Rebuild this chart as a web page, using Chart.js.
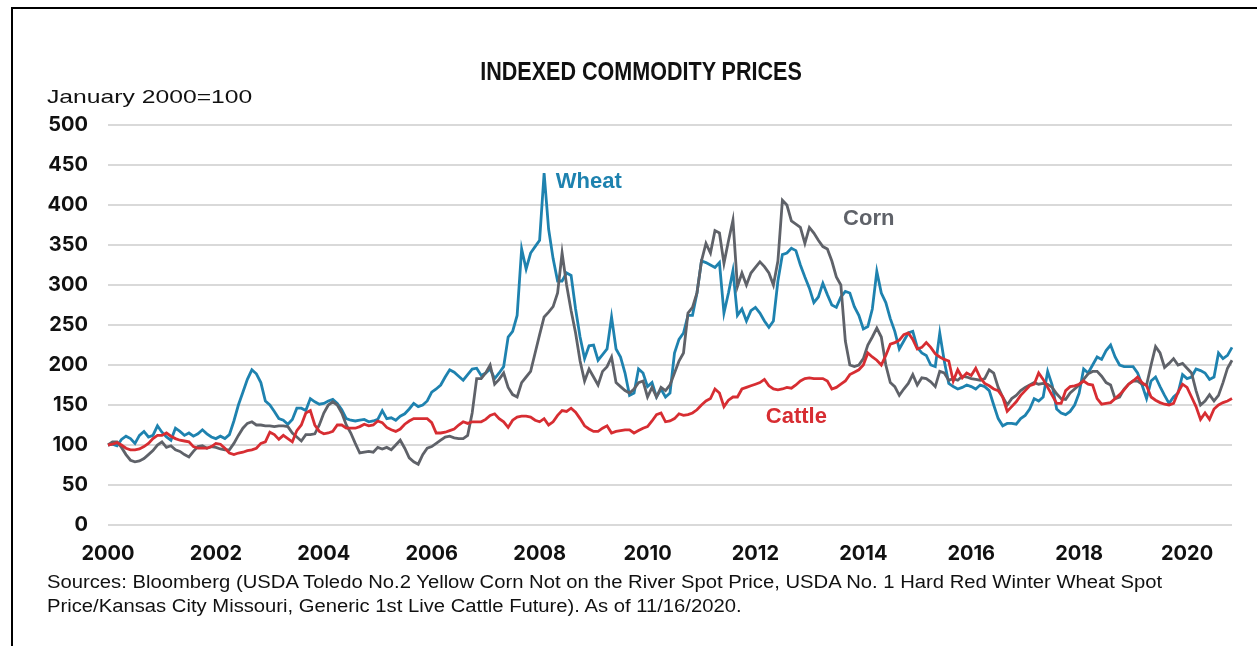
<!DOCTYPE html>
<html>
<head>
<meta charset="utf-8">
<script src="https://cdn.jsdelivr.net/npm/chart.js@4.4.1/dist/chart.umd.min.js"></script>
<style>
  body { margin: 0; background: #fff; }
  #wrap { position: relative; width: 1257px; height: 646px; overflow: hidden; }
  #frame { position: absolute; left: 11px; top: 7px; right: -5px; bottom: -5px;
           border-left: 2px solid #000; border-top: 2px solid #000; }
  #myChart { position: absolute; left: 0; top: 0; }
  .txt { position: absolute; white-space: nowrap; font-family: "Liberation Sans", Arial, sans-serif; color: #111; }
  #title { left: 441px; width: 400px; top: 58px; text-align: center;
           font-weight: bold; font-size: 25px; line-height: 26px; transform: scaleX(0.862); transform-origin: center top; }
  #unit { left: 47px; top: 87px; font-size: 19px; line-height: 19px; transform: scaleX(1.30); transform-origin: left top; }
  #src { left: 47px; top: 570px; font-size: 18px; line-height: 24px; transform: scaleX(1.124); transform-origin: left top; }
</style>
</head>
<body>
<div id="wrap">
  <div id="frame"></div>
  <canvas id="myChart" width="1257" height="646"></canvas>
  <div class="txt" id="title">INDEXED COMMODITY PRICES</div>
  <div class="txt" id="unit">January 2000=100</div>
  <div class="txt" id="src">Sources: Bloomberg (USDA Toledo No.2 Yellow Corn Not on the River Spot Price, USDA No. 1 Hard Red Winter Wheat Spot<br>Price/Kansas City Missouri, Generic 1st Live Cattle Future). As of 11/16/2020.</div>
</div>
<script>
// monthly index values, Jan 2000 .. Nov 2020 (Jan 2000 = 100)
let wheat = [
  100,101,99,107,111,108,102,112,117,110,112,124,
  116,110,106,121,117,112,115,111,114,119,114,110,
  108,111,108,113,130,150,166,182,194,189,178,155,
  150,142,133,131,126,132,146,146,143,158,154,151,
  152,155,157,152,144,133,131,130,131,132,129,130,
  132,143,133,134,131,136,139,145,152,148,150,155,
  166,170,175,185,194,191,186,181,188,195,196,187,
  190,195,183,190,198,235,242,262,345,320,340,348,
  356,440,370,333,305,305,315,312,270,235,208,224,
  225,206,213,220,260,220,210,190,162,165,195,190,
  173,178,160,170,160,165,215,232,240,262,262,290,
  330,328,325,322,328,265,290,318,262,270,255,268,
  272,265,255,247,255,305,338,340,346,343,325,310,
  296,278,285,302,288,275,272,285,292,290,273,262,
  245,248,270,317,290,278,258,242,220,230,240,242,
  222,215,212,200,198,240,205,177,173,170,172,175,
  173,170,175,173,168,150,133,124,127,127,126,133,
  137,145,158,155,160,192,175,145,140,138,142,150,
  165,195,190,200,210,207,218,225,210,200,198,198,
  198,190,175,158,180,185,173,162,152,160,165,188,
  183,185,195,193,190,182,185,215,208,212,222
];
let corn = [
  100,104,104,97,88,81,79,80,83,88,93,100,
  104,97,99,94,92,88,85,92,98,99,96,98,
  97,95,94,94,102,112,121,127,129,125,125,124,
  124,123,124,124,123,115,110,105,113,113,114,125,
  140,150,154,150,140,125,115,102,90,91,92,91,
  97,95,97,94,100,106,96,84,79,76,88,96,
  98,102,106,110,111,109,108,108,112,140,183,183,
  190,200,176,182,190,172,163,160,178,185,192,215,
  238,260,266,273,290,340,300,268,240,205,180,195,
  185,175,192,198,210,178,173,168,165,170,178,180,
  160,172,160,172,168,175,190,205,215,265,272,290,
  330,352,340,368,365,327,355,381,298,315,300,315,
  322,329,323,315,300,330,406,400,380,376,372,352,
  372,365,356,348,345,330,310,300,230,200,198,200,
  208,225,235,246,235,200,178,173,162,170,177,188,
  175,184,183,179,173,192,190,181,183,181,186,185,
  183,182,181,183,194,190,172,160,150,158,162,168,
  172,175,178,176,177,176,172,164,158,157,165,170,
  175,182,189,192,192,186,178,175,158,160,170,176,
  180,180,176,175,200,223,215,197,202,208,200,202,
  196,190,168,150,155,163,155,162,178,196,206
];
let cattle = [
  100,101,103,100,96,94,94,95,98,102,108,112,
  112,115,111,108,106,105,104,98,96,96,96,98,
  102,101,96,90,88,90,91,93,94,96,102,104,
  116,113,107,112,108,104,118,125,140,143,125,117,
  114,115,117,125,125,121,121,121,123,126,124,125,
  130,128,122,119,117,120,126,130,133,133,133,133,
  128,115,115,116,118,120,125,129,127,129,129,129,
  132,137,139,133,129,122,131,135,136,136,135,131,
  129,133,125,129,137,143,142,146,141,133,124,120,
  117,117,121,124,115,117,118,119,119,115,118,121,
  123,130,138,140,129,130,133,139,137,138,140,144,
  150,155,158,170,165,148,156,160,160,170,172,174,
  176,178,182,174,170,169,170,172,171,175,180,183,
  184,183,183,183,180,170,172,176,180,188,191,194,
  200,215,210,206,200,212,226,228,231,238,240,232,
  220,222,228,222,214,210,207,205,180,194,184,190,
  187,196,184,177,174,170,168,160,142,148,154,162,
  168,174,176,190,182,172,162,152,152,168,173,174,
  176,180,176,175,158,151,152,153,158,163,169,176,
  180,185,178,174,160,156,153,151,150,152,166,176,
  172,160,148,132,140,132,145,150,153,155,158
];
let xTickLabels = ['2000','2002','2004','2006','2008','2010','2012','2014','2016','2018','2020'];

let months = [];
for (let i = 0; i < wheat.length; i++) {
  months.push((2000 + Math.floor(i / 12)) + "-" + (i % 12 + 1));
}

const BLUE = '#1e82af', GRAY = '#5f6269', RED = '#d72d32';

// series names written next to the lines (month index, index value)
let seriesLabels = [
  { text: 'Wheat',  at: [99.6, 429], color: BLUE },
  { text: 'Corn',   at: [163.5, 383], color: GRAY },
  { text: 'Cattle', at: [146.3, 135], color: RED }
];

const namePlugin = {
  id: 'names',
  afterDatasetsDraw(chart) {
    let ctx = chart.ctx;
    let xs = chart.scales.x, ys = chart.scales.y;
    ctx.save();
    ctx.font = 'bold 22px "Liberation Sans", Arial, sans-serif';
    ctx.textBaseline = 'middle';
    ctx.textAlign = 'left';
    for (let l of seriesLabels) {
      ctx.fillStyle = l.color;
      ctx.fillText(l.text, xs.getPixelForValue(l.at[0]), ys.getPixelForValue(l.at[1]));
    }
    ctx.restore();
  }
};

function render() {
  var ctx = document.getElementById("myChart").getContext('2d');
  var chart = new Chart(ctx, {
    type: 'line',
    data: {
      labels: months,
      datasets: [
        { label: 'Cattle', data: cattle, borderColor: RED },
        { label: 'Corn', data: corn, borderColor: GRAY },
        { label: 'Wheat', data: wheat, borderColor: BLUE }
      ]
    },
    options: {
      responsive: false,
      animation: false,
      devicePixelRatio: 1,
      elements: {
        line: { borderWidth: 2.8, tension: 0, fill: false },
        point: { radius: 0, hoverRadius: 0 }
      },
      layout: { padding: { left: 0, right: 25, top: 125, bottom: 66 } },
      plugins: { legend: { display: false }, tooltip: { enabled: false }, title: { display: false } },
      scales: {
        x: {
          type: 'category',
          offset: false,
          grid: { display: false, drawTicks: false },
          border: { display: false },
          afterFit: (s) => { s.height = 55; },
          ticks: {
            autoSkip: false, maxRotation: 0, minRotation: 0, padding: 17,
            color: '#111', font: { family: 'Inter, "Liberation Sans", sans-serif', weight: 'bold', size: 20 },
            callback: (v, i) => (i % 24 === 0 ? xTickLabels[i / 24] : null)
          }
        },
        y: {
          min: 0, max: 500,
          grid: { color: '#d9d9d9', lineWidth: 2, drawTicks: false },
          border: { display: false },
          afterFit: (s) => { s.width = 108; },
          ticks: {
            stepSize: 50, padding: 20,
            color: '#111', font: { family: 'Inter, "Liberation Sans", sans-serif', weight: 'bold', size: 20 }
          }
        }
      }
    },
    plugins: [namePlugin]
  });
}

render();
</script>
</body>
</html>
